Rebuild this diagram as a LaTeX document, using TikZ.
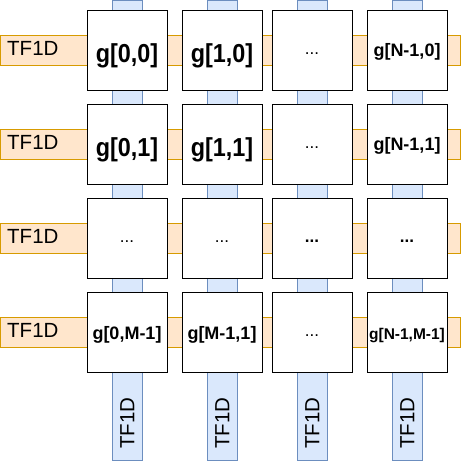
\documentclass[tikz,border=0pt]{standalone}
\usepackage{fontspec}
\setmainfont{Liberation Sans}
\newfontfamily\bigbold[FakeStretch=0.9]{Liberation Sans}
\definecolor{orfill}{HTML}{FFE6CC}
\definecolor{ordraw}{HTML}{D79B00}
\definecolor{blfill}{HTML}{DAE8FC}
\definecolor{bldraw}{HTML}{6C8EBF}
\tikzset{
  hband/.style={draw=ordraw, fill=orfill, line width=1pt, minimum width=460pt, minimum height=30pt, inner sep=0pt},
  vband/.style={draw=bldraw, fill=blfill, line width=1pt, minimum width=30pt, minimum height=460pt, inner sep=0pt},
  cell/.style={draw=black, fill=white, line width=1pt, minimum width=80pt, minimum height=80pt, inner sep=0pt},
  tflabel/.style={inner sep=0pt, font=\fontsize{20.5}{24}\selectfont},
  biglab/.style={inner sep=0pt, anchor=base, font=\bigbold\bfseries\fontsize{26}{30}\selectfont},
  smalllab/.style={inner sep=0pt, anchor=base, font=\bfseries\fontsize{18}{21}\selectfont},
  tinylab/.style={inner sep=0pt, anchor=base, font=\bfseries\fontsize{15.5}{19}\selectfont},
  dotlab/.style={inner sep=0pt, anchor=base, font=\fontsize{17}{19}\selectfont},
  bdotlab/.style={inner sep=0pt, anchor=base, font=\bfseries\fontsize{17}{19}\selectfont}
}
\begin{document}
\begin{tikzpicture}[x=1pt,y=-1pt]
\useasboundingbox (0,0) rectangle (462,461);
% horizontal bands
\foreach \yy [count=\j] in {50,144,238,332} {
  \node[hband] (h\j) at (230.6,\yy) {};
}
% vertical bands
\foreach \xx [count=\i] in {127,222,312,407} {
  \node[vband] (v\i) at (\xx,230) {};
}
% band labels
\foreach \yy [count=\j] in {50,144,238,332} {
  \node[tflabel, anchor=base west] (hl\j) at (7,\yy+5.8) {TF1D};
}
\foreach \xx [count=\i] in {127,222,312,407} {
  \node[tflabel, rotate=90, anchor=base west] (vl\i) at (\xx+7.3,449) {TF1D};
}
% cells
\foreach \xx [count=\i] in {127,222,312,407} {
  \foreach \yy [count=\j] in {50,144,238,332} {
    \node[cell] (c\i\j) at (\xx,\yy) {};
  }
}
% row 1
\node[biglab] (t11) at (127,62.7) {g[0,0]};
\node[biglab] (t21) at (222,62.7) {g[1,0]};
\node[dotlab] (t31) at (312,54) {...};
\node[smalllab] (t41) at (407,56.5) {g[N-1,0]};
% row 2
\node[biglab] (t12) at (127,156.7) {g[0,1]};
\node[biglab] (t22) at (222,156.7) {g[1,1]};
\node[dotlab] (t32) at (312,148) {...};
\node[smalllab] (t42) at (407,150.5) {g[N-1,1]};
% row 3
\node[dotlab] (t13) at (127,242) {...};
\node[dotlab] (t23) at (222,242) {...};
\node[bdotlab] (t33) at (312,242) {...};
\node[bdotlab] (t43) at (407,242) {...};
% row 4
\node[smalllab] (t14) at (127,339) {g[0,M-1]};
\node[smalllab] (t24) at (222,339) {g[M-1,1]};
\node[dotlab] (t34) at (312,336) {...};
\node[tinylab] (t44) at (407,339) {g[N-1,M-1]};
\end{tikzpicture}
\end{document}
